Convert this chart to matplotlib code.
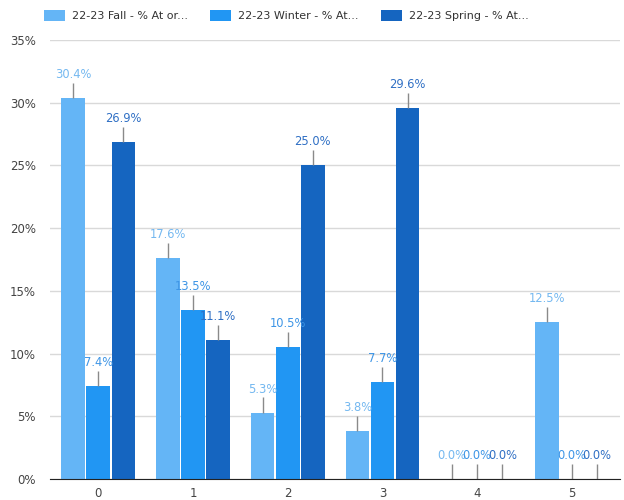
import numpy as np
import matplotlib.pyplot as plt

categories = ["0", "1", "2", "3", "4", "5"]
series_names = ["22-23 Fall - % At or...", "22-23 Winter - % At...", "22-23 Spring - % At..."]
fall = [30.4, 17.6, 5.3, 3.8, 0.0, 12.5]
winter = [7.4, 13.5, 10.5, 7.7, 0.0, 0.0]
spring = [26.9, 11.1, 25.0, 29.6, 0.0, 0.0]

colors = ["#64b5f6", "#2196f3", "#1565c0"]
label_colors = ["#74b8f0", "#3d95e6", "#2f6fc4"]

fig = plt.figure(figsize=(6.24, 5), dpi=100)
ax = fig.add_axes([0.08, 0.042, 0.914, 0.878])

x = np.arange(len(categories))
step = 0.265
width = 0.25
lead = 1.2

for i, (vals, name) in enumerate(zip([fall, winter, spring], series_names)):
    pos = x + (i - 1) * step
    ax.bar(pos, vals, width=width, color=colors[i], label=name, zorder=3)
    # short gray leader line above each bar
    ax.errorbar(pos, vals, yerr=[np.zeros(len(vals)), np.full(len(vals), lead)],
                fmt="none", ecolor="#8a8a8a", elinewidth=1, capsize=0, zorder=4)
    for p, v in zip(pos, vals):
        ax.text(p, v + lead + 0.15, f"{v:.1f}%", ha="center", va="bottom",
                fontsize=8.3, color=label_colors[i], zorder=5)

ax.set_xlim(-0.51, 5.51)
ax.set_ylim(0, 35)
ax.set_yticks(np.arange(0, 36, 5))
ax.set_yticklabels([f"{t}%" for t in range(0, 36, 5)])
ax.set_xticks(x)
ax.set_xticklabels(categories)
ax.tick_params(axis="both", length=0, labelsize=8.5, colors="#444444")
ax.tick_params(axis="x", pad=6)
ax.tick_params(axis="y", pad=10)
ax.grid(axis="y", color="#d9d9d9", linewidth=1, zorder=0)
for side in ["top", "right", "left"]:
    ax.spines[side].set_visible(False)
ax.spines["bottom"].set_color("#222222")
ax.spines["bottom"].set_zorder(6)

fig.legend(loc="upper left", bbox_to_anchor=(0.055, 1.0), ncol=3, frameon=False,
           fontsize=8, handlelength=1.9, handleheight=1.1, columnspacing=2.0,
           handletextpad=0.6, labelcolor="#333333")

fig.savefig("out.png", dpi=100)
